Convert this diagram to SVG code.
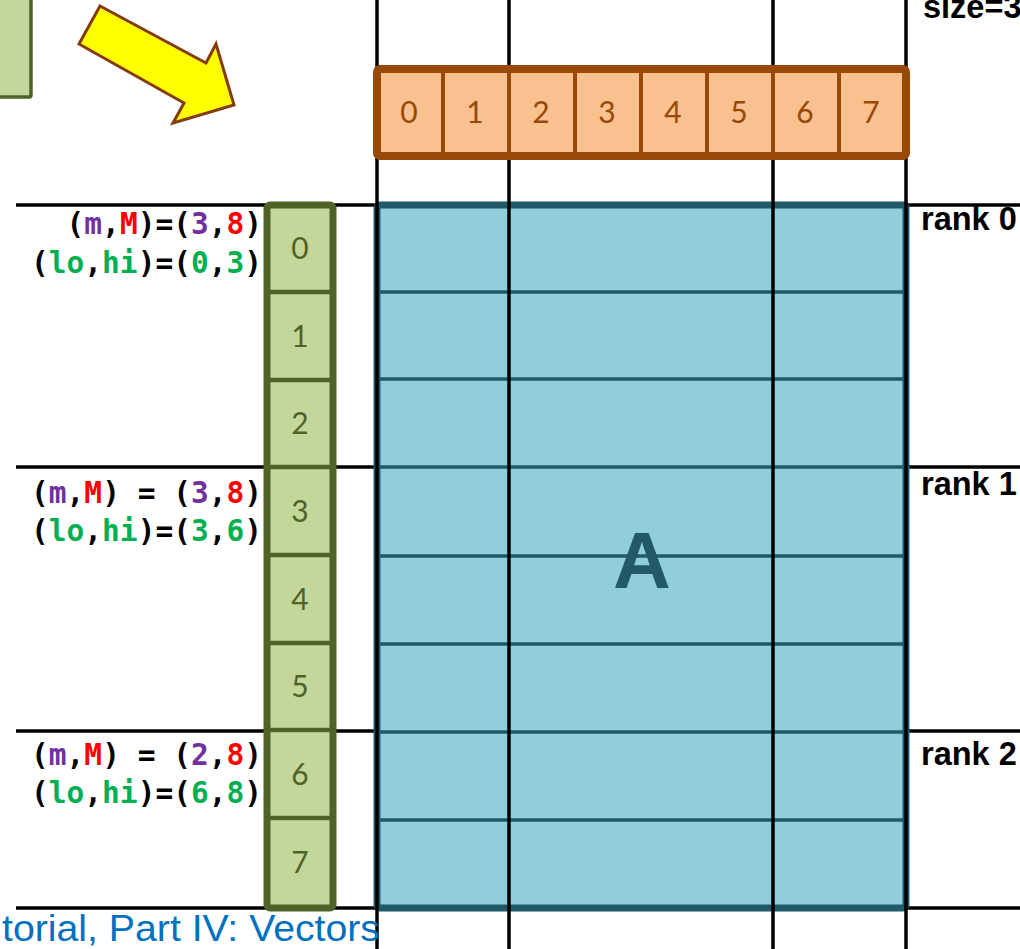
<svg xmlns="http://www.w3.org/2000/svg" width="1020" height="949" viewBox="0 0 1020 949">
<style>
.grid{stroke:#000;stroke-width:3.5;fill:none}
.mono{font-family:"DejaVu Sans Mono",monospace;font-weight:bold;font-size:29.5px;fill:#000}
.pu{fill:#7030A0}.rd{fill:#FF0000}.gr{fill:#00B050}
.rank{font-family:"Liberation Sans",Arial,sans-serif;font-weight:bold;font-size:32.5px;fill:#000}
.gnum{font-family:"Lato","Liberation Sans",sans-serif;font-size:30px;fill:#4F6228;text-anchor:middle}
.onum{font-family:"Lato","Liberation Sans",sans-serif;font-size:30px;fill:#984807;text-anchor:middle}
.bline{stroke:#215968;stroke-width:3.5}
.gline{stroke:#4F6228;stroke-width:4.5}
.oline{stroke:#984807;stroke-width:4}
</style>
<rect width="1020" height="949" fill="#fff"/>
<g id="connectors">
<line class="grid" x1="16" y1="205" x2="1020" y2="205"/>
<line class="grid" x1="16" y1="467" x2="1020" y2="467"/>
<line class="grid" x1="16" y1="731" x2="1020" y2="731"/>
<line class="grid" x1="16" y1="908" x2="1020" y2="908"/>
</g>
<g id="partial-vector">
<rect x="-5" y="-5" width="36" height="102" rx="2" fill="#C4D79B" stroke="#4F6228" stroke-width="3.5"/>
</g>
<g id="yellow-arrow">
<polygon points="100,6 206,63 216,44 234,105 173,123 184,103 79,44" fill="#FFFF00" stroke="#843C0C" stroke-width="3" stroke-linejoin="miter"/>
</g>
<g id="matrix-A">
<rect x="377" y="205" width="529" height="703" rx="3" fill="#92CDDC" stroke="#215968" stroke-width="7"/>
<line class="bline" x1="380" y1="292" x2="903" y2="292"/>
<line class="bline" x1="380" y1="379" x2="903" y2="379"/>
<line class="bline" x1="380" y1="467" x2="903" y2="467"/>
<line class="bline" x1="380" y1="556" x2="903" y2="556"/>
<line class="bline" x1="380" y1="644" x2="903" y2="644"/>
<line class="bline" x1="380" y1="732" x2="903" y2="732"/>
<line class="bline" x1="380" y1="820" x2="903" y2="820"/>
<text x="642" y="588" font-family="Liberation Sans,Arial,sans-serif" font-weight="bold" font-size="80" fill="#215968" text-anchor="middle">A</text>
</g>
<g id="columns">
<line class="grid" x1="377" y1="0" x2="377" y2="949"/>
<line class="grid" x1="509" y1="0" x2="509" y2="949"/>
<line class="grid" x1="773" y1="0" x2="773" y2="949"/>
<line class="grid" x1="906" y1="0" x2="906" y2="949"/>
</g>
<g id="row-vector">
<rect x="377" y="69" width="529" height="87" rx="3" fill="#F9C090" stroke="#984807" stroke-width="8"/>
<line class="oline" x1="443" y1="71" x2="443" y2="154"/>
<line class="oline" x1="509" y1="71" x2="509" y2="154"/>
<line class="oline" x1="575" y1="71" x2="575" y2="154"/>
<line class="oline" x1="641" y1="71" x2="641" y2="154"/>
<line class="oline" x1="707" y1="71" x2="707" y2="154"/>
<line class="oline" x1="773" y1="71" x2="773" y2="154"/>
<line class="oline" x1="839" y1="71" x2="839" y2="154"/>
<text class="onum" x="409" y="123">0</text>
<text class="onum" x="475" y="123">1</text>
<text class="onum" x="541" y="123">2</text>
<text class="onum" x="607" y="123">3</text>
<text class="onum" x="673" y="123">4</text>
<text class="onum" x="739" y="123">5</text>
<text class="onum" x="805" y="123">6</text>
<text class="onum" x="871" y="123">7</text>
</g>
<g id="column-vector">
<rect x="267" y="205" width="66" height="703" rx="3" fill="#C4D79B" stroke="#4F6228" stroke-width="7"/>
<line class="gline" x1="269" y1="292" x2="331" y2="292"/>
<line class="gline" x1="269" y1="380" x2="331" y2="380"/>
<line class="gline" x1="269" y1="467" x2="331" y2="467"/>
<line class="gline" x1="269" y1="555" x2="331" y2="555"/>
<line class="gline" x1="269" y1="643" x2="331" y2="643"/>
<line class="gline" x1="269" y1="730" x2="331" y2="730"/>
<line class="gline" x1="269" y1="818" x2="331" y2="818"/>
<text class="gnum" x="300" y="259">0</text>
<text class="gnum" x="300" y="347">1</text>
<text class="gnum" x="300" y="434">2</text>
<text class="gnum" x="300" y="522">3</text>
<text class="gnum" x="300" y="610">4</text>
<text class="gnum" x="300" y="697">5</text>
<text class="gnum" x="300" y="785">6</text>
<text class="gnum" x="300" y="873">7</text>
</g>
<g id="rank0-label">
<text class="mono" x="262" y="234" text-anchor="end">(<tspan class="pu">m</tspan>,<tspan class="rd">M</tspan>)=(<tspan class="pu">3</tspan>,<tspan class="rd">8</tspan>)</text>
<text class="mono" x="262" y="273" text-anchor="end">(<tspan class="gr">lo</tspan>,<tspan class="gr">hi</tspan>)=(<tspan class="gr">0</tspan>,<tspan class="gr">3</tspan>)</text>
<text class="rank" x="921" y="230">rank 0</text>
</g>
<g id="rank1-label">
<text class="mono" x="262" y="503" text-anchor="end">(<tspan class="pu">m</tspan>,<tspan class="rd">M</tspan>) = (<tspan class="pu">3</tspan>,<tspan class="rd">8</tspan>)</text>
<text class="mono" x="262" y="541" text-anchor="end">(<tspan class="gr">lo</tspan>,<tspan class="gr">hi</tspan>)=(<tspan class="gr">3</tspan>,<tspan class="gr">6</tspan>)</text>
<text class="rank" x="921" y="495">rank 1</text>
</g>
<g id="rank2-label">
<text class="mono" x="262" y="765" text-anchor="end">(<tspan class="pu">m</tspan>,<tspan class="rd">M</tspan>) = (<tspan class="pu">2</tspan>,<tspan class="rd">8</tspan>)</text>
<text class="mono" x="262" y="803" text-anchor="end">(<tspan class="gr">lo</tspan>,<tspan class="gr">hi</tspan>)=(<tspan class="gr">6</tspan>,<tspan class="gr">8</tspan>)</text>
<text class="rank" x="921" y="765">rank 2</text>
</g>
<g id="size-label">
<text class="rank" x="923" y="18">size=3</text>
</g>
<g id="footer">
<text x="2" y="941" font-family="Liberation Sans,Arial,sans-serif" font-size="36" fill="#0070C0" textLength="378" lengthAdjust="spacingAndGlyphs">torial, Part IV: Vectors</text>
</g>
</svg>
